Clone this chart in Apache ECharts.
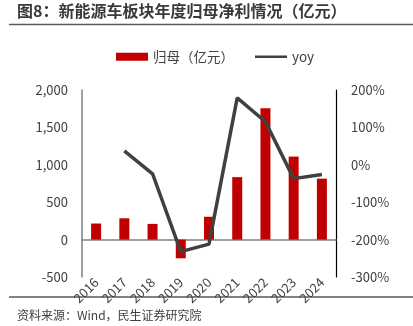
<!DOCTYPE html>
<html><head><meta charset="utf-8">
<script src="https://cdn.jsdelivr.net/npm/echarts@6/dist/echarts.min.js"></script>
<style>html,body{margin:0;padding:0;background:#fff}#c{width:413px;height:326px}</style>
</head><body><div id="c"></div>
<script>
const categories = ['2016','2017','2018','2019','2020','2021','2022','2023','2024'];
const profit = [215, 285, 210, -250, 305, 835, 1755, 1110, 815];
const yoy = [null, 37, -24, -232, -212, 179, 115, -37, -26];
const leftTicks = [-500, 2000, 500];
const rightTicks = [-300, 200, 100];

const chart = echarts.init(document.getElementById('c'));
const FONT = '"Noto Sans CJK SC","Noto Sans",sans-serif';
chart.setOption({
  animation: false,
  textStyle: {fontFamily: FONT},
  title: {
    text: '图8：新能源车板块年度归母净利情况（亿元）',
    left: 17, top: 1, padding: [2, 0, 0, 0],
    textStyle: {fontSize: 16, fontWeight: 'bold', color: '#3a3a3a', fontFamily: FONT}
  },
  legend: {
    top: 50, left: 116, padding: 0,
    itemWidth: 32, itemHeight: 8, itemGap: 21,
    textStyle: {fontSize: 13.5, color: '#404040', fontFamily: FONT},
    data: [
      {name: '归母（亿元）', icon: 'rect'},
      {name: 'yoy', icon: 'path://M0,0L0,0M0,2.7h32v2.6h-32zM32,8L32,8'}
    ]
  },
  graphic: [
    {type: 'line', shape: {x1: 9, y1: 24.5, x2: 413, y2: 24.5}, style: {stroke: '#595959', lineWidth: 1.5}},
    {type: 'line', shape: {x1: 9, y1: 297, x2: 413, y2: 297}, style: {stroke: '#595959', lineWidth: 1.5}},
    {type: 'text', left: 17, top: 309, style: {text: '资料来源：Wind，民生证券研究院', fill: '#404040', font: '12px ' + FONT}}
  ],
  grid: {left: 82, right: 77, top: 90, bottom: 49},
  xAxis: {
    type: 'category', data: categories,
    axisLine: {onZero: true, lineStyle: {color: '#808080', width: 1.5}},
    axisTick: {show: false},
    axisLabel: {rotate: 45, fontSize: 13, color: '#404040', margin: 3, interval: 0, fontFamily: FONT}
  },
  yAxis: [
    {
      type: 'value', min: leftTicks[0], max: leftTicks[1], interval: leftTicks[2],
      axisLine: {show: true, lineStyle: {color: '#808080', width: 1.5}},
      axisTick: {show: false}, splitLine: {show: false},
      axisLabel: {fontSize: 13, color: '#404040', margin: 14, fontFamily: FONT,
        formatter: v => v.toLocaleString('en-US')}
    },
    {
      type: 'value', min: rightTicks[0], max: rightTicks[1], interval: rightTicks[2],
      axisLine: {show: true, lineStyle: {color: '#000', width: 1.2}},
      axisTick: {show: false}, splitLine: {show: false},
      axisLabel: {fontSize: 13, color: '#404040', margin: 15, fontFamily: FONT, formatter: '{value}%'}
    }
  ],
  series: [
    {name: '归母（亿元）', type: 'bar', data: profit, barWidth: 10,
     itemStyle: {color: '#C00000'}},
    {name: 'yoy', type: 'line', yAxisIndex: 1, data: yoy, symbol: 'none',
     lineStyle: {color: '#404040', width: 3.5}, itemStyle: {color: '#404040'}}
  ]
});
</script></body></html>
